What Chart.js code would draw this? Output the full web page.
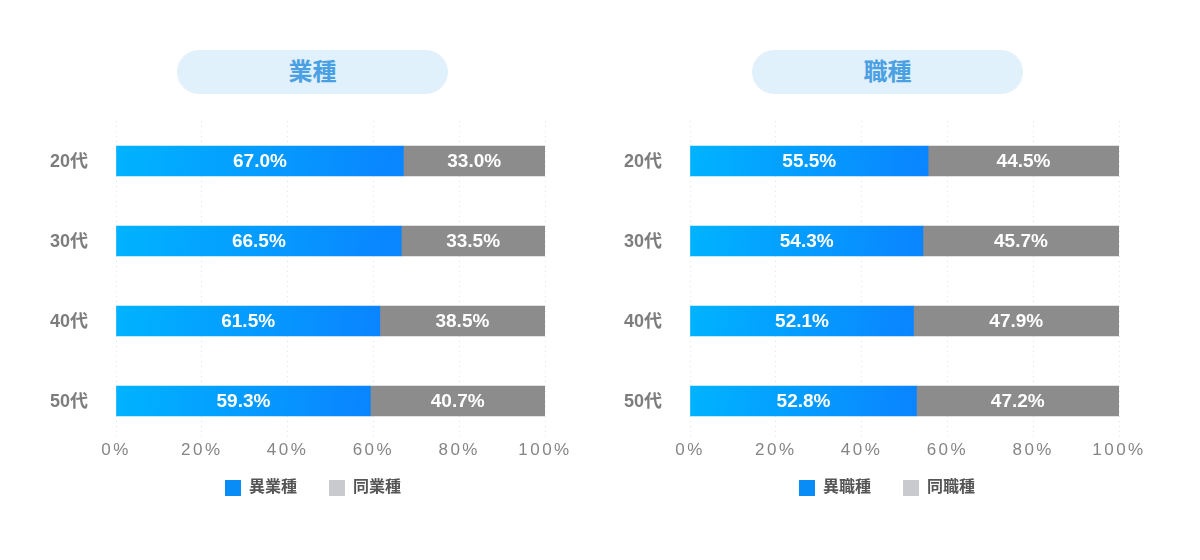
<!DOCTYPE html>
<html>
<head>
<meta charset="utf-8">
<script src="https://cdn.jsdelivr.net/npm/chart.js@4.4.1/dist/chart.umd.min.js"></script>
<style>
  html, body { margin: 0; padding: 0; background: #fff; }
  body { width: 1200px; height: 560px; position: relative; overflow: hidden; }
  .pill {
    position: absolute; top: 50px; width: 271px; height: 44px; border-radius: 22px;
    background: #e1f1fc; color: #4aa0e2; text-align: center; line-height: 44px;
    font: bold 24px 'Noto Sans CJK JP', sans-serif;
  }
  .pill span { position: relative; top: 2px; }
  .box { position: absolute; top: 0; width: 600px; height: 560px; }
</style>
</head>
<body>
<div class="pill" style="left:177px"><span>業種</span></div>
<div class="pill" style="left:752px"><span>職種</span></div>
<div class="box" style="left:0"><canvas id="c1"></canvas></div>
<div class="box" style="left:574px"><canvas id="c2"></canvas></div>
<script>
// data
const ages = ['20代', '30代', '40代', '50代'];
const industryDiff = [67.0, 66.5, 61.5, 59.3];
const industrySame = [33.0, 33.5, 38.5, 40.7];
const jobDiff = [55.5, 54.3, 52.1, 52.8];
const jobSame = [44.5, 45.7, 47.9, 47.2];
const xTicks = [0, 20, 40, 60, 80, 100];

const FONT = "'Liberation Sans', 'Noto Sans CJK JP', sans-serif";
const legendColors = ['#0a8cf7', '#c9cacd'];

// blue gradient per bar
function blueFill(ctx) {
  const c = ctx.chart;
  if (!c.chartArea || !c.scales.x) return '#06a0ff';
  const x0 = c.scales.x.getPixelForValue(0);
  const x1 = c.scales.x.getPixelForValue(ctx.raw || 0);
  const y = c.scales.y.getPixelForValue(ctx.dataIndex);
  const g = c.ctx.createLinearGradient(x0, y - 15, x1, y + 15);
  g.addColorStop(0, '#00b3ff');
  g.addColorStop(1, '#0a84ff');
  return g;
}

// values written in the middle of each bar
const barLabels = {
  id: 'barLabels',
  afterDatasetsDraw(chart) {
    const ctx = chart.ctx;
    ctx.save();
    ctx.font = 'bold 19px ' + FONT;
    ctx.fillStyle = '#ffffff';
    ctx.textAlign = 'center';
    ctx.textBaseline = 'middle';
    chart.data.datasets.forEach((ds, i) => {
      chart.getDatasetMeta(i).data.forEach((el, j) => {
        const p = el.getProps(['x', 'y', 'base'], true);
        ctx.fillText(ds.data[j].toFixed(1) + '%', (p.x + p.base) / 2, p.y + 1);
      });
    });
    ctx.restore();
  }
};

// wide spacing on the x tick labels
const spacedTicks = {
  id: 'spacedTicks',
  afterLayout(chart) {
    const s = chart.scales.x;
    if (s._spaced) return;
    const orig = s.drawLabels.bind(s);
    s.drawLabels = function (area) {
      chart.ctx.save();
      chart.ctx.letterSpacing = '2.5px';
      orig(area);
      chart.ctx.restore();
    };
    s._spaced = true;
  }
};

function makeChart(id, diff, same, names) {
  new Chart(document.getElementById(id), {
    type: 'bar',
    data: {
      labels: ages,
      datasets: [
        { label: names[0], data: diff, backgroundColor: blueFill, barThickness: 30 },
        { label: names[1], data: same, backgroundColor: '#8c8c8c', barThickness: 30 }
      ]
    },
    options: {
      indexAxis: 'y',
      responsive: false,
      animation: false,
      layout: { padding: { left: 81, right: 55, top: 121, bottom: 54 } },
      scales: {
        x: {
          stacked: true, min: 0, max: 100,
          afterBuildTicks: s => { s.ticks = xTicks.map(v => ({ value: v })); },
          afterFit: s => { s.height = 7; },
          grid: { color: '#e2e2e2', drawTicks: false },
          border: { display: false, dash: [1, 4] },
          ticks: {
            mirror: true,
            padding: -20,
            color: '#858585',
            font: { family: FONT, size: 17 },
            callback: v => v + '%'
          }
        },
        y: {
          stacked: true,
          afterFit: s => { s.width = 35; },
          grid: { display: false, drawTicks: false },
          border: { display: false },
          ticks: {
            mirror: true,
            padding: -66,
            labelOffset: 1,
            color: '#7d7d7d',
            font: { family: FONT, size: 18, weight: 'bold' }
          }
        }
      },
      plugins: {
        tooltip: { enabled: false },
        legend: {
          position: 'bottom',
          labels: {
            boxWidth: 16, boxHeight: 16, padding: 32,
            color: '#555555',
            font: { family: FONT, size: 16, weight: 'bold' },
            generateLabels: chart => chart.data.datasets.map((ds, i) => ({
              text: ds.label, fillStyle: legendColors[i], strokeStyle: legendColors[i],
              fontColor: '#555555', lineWidth: 0, datasetIndex: i, hidden: false
            }))
          }
        }
      }
    },
    plugins: [barLabels, spacedTicks]
  });
}

document.getElementById('c1').width = 600;
document.getElementById('c1').height = 560;
document.getElementById('c2').width = 600;
document.getElementById('c2').height = 560;
makeChart('c1', industryDiff, industrySame, ['異業種', '同業種']);
makeChart('c2', jobDiff, jobSame, ['異職種', '同職種']);
</script>
</body>
</html>
